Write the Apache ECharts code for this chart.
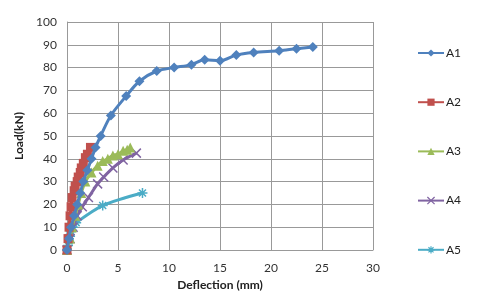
<!DOCTYPE html>
<html><head><meta charset="utf-8">
<script src="https://cdn.jsdelivr.net/npm/echarts@6/dist/echarts.min.js"></script>
<style>html,body{margin:0;padding:0;background:#fff}#c{width:480px;height:303px}</style>
</head><body><div id="c"></div>
<script>
const seriesNames = ['A1','A2','A3','A4','A5'];
const a1 = [[0,0],[0.2,5],[0.4,10],[0.7,15],[1.0,20],[1.3,25],[1.6,30],[2.0,35],[2.4,40],[2.8,45],[3.3,50],[4.3,59],[5.8,67.5],[7.1,74],[8.8,78.5],[10.5,80],[12.2,81.3],[13.5,83.4],[15,83],[16.6,85.5],[18.3,86.6],[20.8,87.4],[22.5,88.3],[24.1,89]];
const a2 = [[0,0],[0.1,5],[0.2,10],[0.3,15],[0.4,19],[0.5,23],[0.7,26],[0.8,28],[1.0,30],[1.1,32],[1.3,34],[1.4,36],[1.6,38],[1.8,40.5],[2.0,42],[2.3,45]];
const a3 = [[0,0],[0.3,5],[0.5,10],[0.8,15],[1.1,20],[1.4,25],[1.8,30],[2.4,34],[3.0,37],[3.5,39],[4.0,40],[4.5,41.5],[5.0,42],[5.5,43.5],[5.9,44],[6.2,45]];
const a4 = [[0,0],[0.3,5],[0.6,10],[1.0,15],[1.5,19],[2.1,23],[3.0,29],[3.6,32],[4.5,36],[5.5,39.5],[6.8,42.5]];
const a5 = [[0,0],[0.1,2],[0.2,4],[0.3,6],[0.4,8],[0.6,10],[0.9,12],[3.5,19.5],[7.4,25]];
const colors = ['#4F81BD','#C0504D','#9BBB59','#8064A2','#4BACC6'];
const symbols = ['diamond','rect','triangle',
  'path://M0,0L10,10M10,0L0,10',
  'path://M5,0L5,10M0,5L10,5M1.5,1.5L8.5,8.5M8.5,1.5L1.5,8.5'];
const datas = [a1,a2,a3,a4,a5];
const sizes = [10,9,10,9,10];

const chart = echarts.init(document.getElementById('c'));
const series = datas.map((d,i)=>({
  name: seriesNames[i], type:'line', data:d, smooth:0.3,
  symbol: symbols[i], symbolSize: sizes[i], showAllSymbol:true,
  lineStyle:{color:colors[i], width:3},
  itemStyle: i>=3 ? {color:colors[i], borderColor:colors[i], borderWidth:1.5} : {color:colors[i]},
  z: 10-i
}));
const legendItems = seriesNames.map((n,i)=>({
  orient:'vertical', left:417, top:47+i*49.2, padding:0,
  itemWidth:26, itemHeight:9, itemGap:0,
  textStyle:{fontFamily:'Lato', fontSize:12, color:'#222', padding:[0,0,0,-3]},
  itemStyle: i>=3 ? {borderColor:colors[i], borderWidth:1.2} : {borderWidth:0},
  data:[n]
}));
chart.setOption({
  animation:false,
  color: colors,
  legend: legendItems,
  grid:{left:67, right:107, top:22, bottom:53},
  xAxis:{type:'value', min:0, max:30, interval:5,
    name:'Deflection (mm)', nameLocation:'middle', nameGap:28,
    nameTextStyle:{fontFamily:'Lato', fontWeight:'bold', fontSize:12, color:'#222'},
    axisLine:{lineStyle:{color:'#999'}}, axisTick:{show:false},
    axisLabel:{fontFamily:'Lato', fontSize:12, color:'#333', margin:12},
    splitLine:{lineStyle:{color:'#999'}}},
  yAxis:{type:'value', min:0, max:100, interval:10,
    name:'Load(kN)', nameLocation:'middle', nameGap:29,
    nameTextStyle:{fontFamily:'Lato', fontWeight:'bold', fontSize:12, color:'#222'},
    axisLine:{show:true, lineStyle:{color:'#999'}}, axisTick:{show:false},
    axisLabel:{fontFamily:'Lato', fontSize:12, color:'#333', margin:10},
    splitLine:{lineStyle:{color:'#999'}}},
  series: series
});
</script></body></html>
